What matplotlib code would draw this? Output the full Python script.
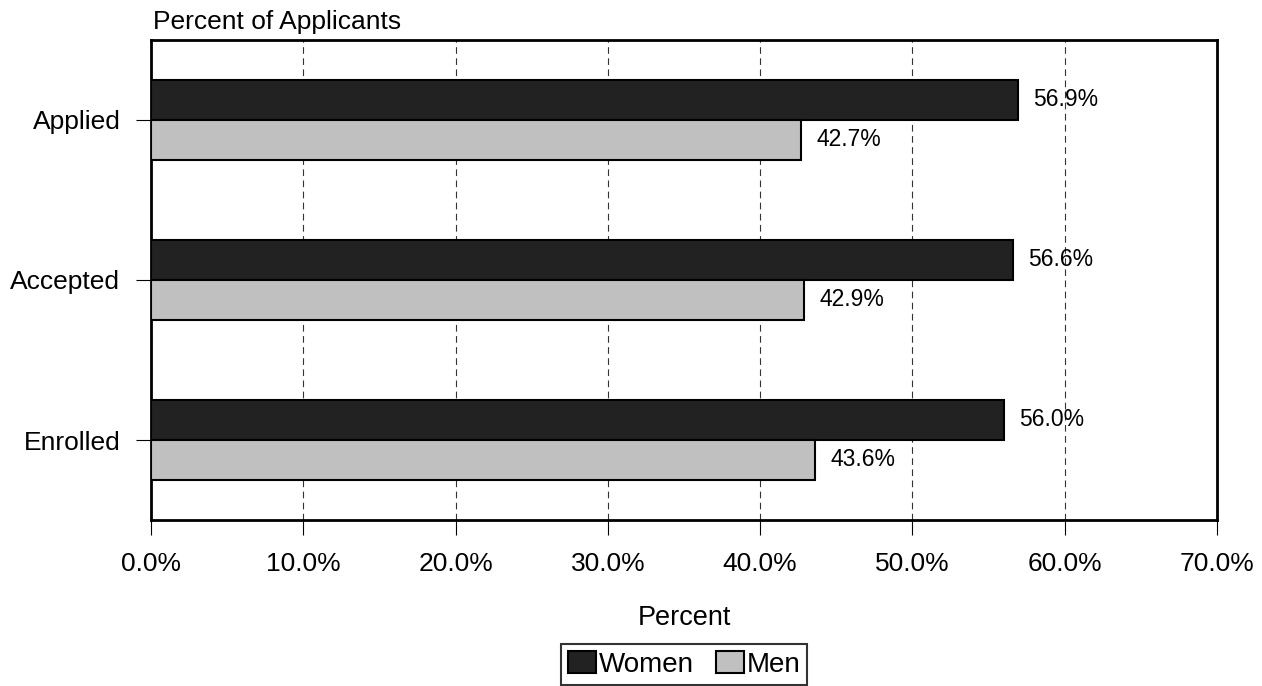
import numpy as np
import matplotlib.pyplot as plt

plt.rcParams['font.family'] = ['Liberation Sans', 'DejaVu Sans']

categories = ['Applied', 'Accepted', 'Enrolled']
women = [56.9, 56.6, 56.0]
men = [42.7, 42.9, 43.6]
x_ticks = [0, 10, 20, 30, 40, 50, 60, 70]

fig = plt.figure(figsize=(12.62, 6.86), dpi=100)
ax = fig.add_axes([151 / 1262, 166 / 686, 1066 / 1262, 480 / 686])

y = np.arange(len(categories))
h = 0.25
bw = ax.barh(y - h / 2, women, height=h, color='#222222', edgecolor='black',
             linewidth=1.5, label='Women', zorder=3)
bm = ax.barh(y + h / 2, men, height=h, color='#c0c0c0', edgecolor='black',
             linewidth=1.5, label='Men', zorder=3)

for bars, vals in ((bw, women), (bm, men)):
    for b, v in zip(bars, vals):
        ax.annotate(f'{v:.1f}%', (v, b.get_y() + b.get_height() / 2),
                    xytext=(11, 0), textcoords='offset points',
                    va='center', ha='left', fontsize=16.5, zorder=4)

ax.set_xlim(0, 70)
ax.set_ylim(2.5, -0.5)
ax.set_yticks(y)
ax.set_yticklabels(categories, fontsize=19)
ax.set_xticks(x_ticks)
ax.set_xticklabels([f'{t:.1f}%' for t in x_ticks], fontsize=19)
ax.tick_params(axis='both', direction='out', length=11, width=0.8)
ax.tick_params(axis='y', pad=11)
ax.tick_params(axis='x', pad=12)
ax.xaxis.grid(True, linestyle=(0, (6, 4)), color='#333333', linewidth=0.8, zorder=0)
for s in ax.spines.values():
    s.set_linewidth(2)

ax.set_title('Percent of Applicants', loc='left', fontsize=19, pad=8, x=0.002)
ax.set_xlabel('Percent', fontsize=19.5, labelpad=21)

leg = fig.legend(loc='lower center', bbox_to_anchor=(0.542, 0.0), ncol=2,
                 fontsize=20, frameon=True, fancybox=False, edgecolor='black',
                 handlelength=1.0, handleheight=0.8, handletextpad=0.1,
                 columnspacing=0.8, borderpad=0.25, borderaxespad=0.05)
leg.get_frame().set_linewidth(1.5)

fig.savefig('out.png', dpi=100)
